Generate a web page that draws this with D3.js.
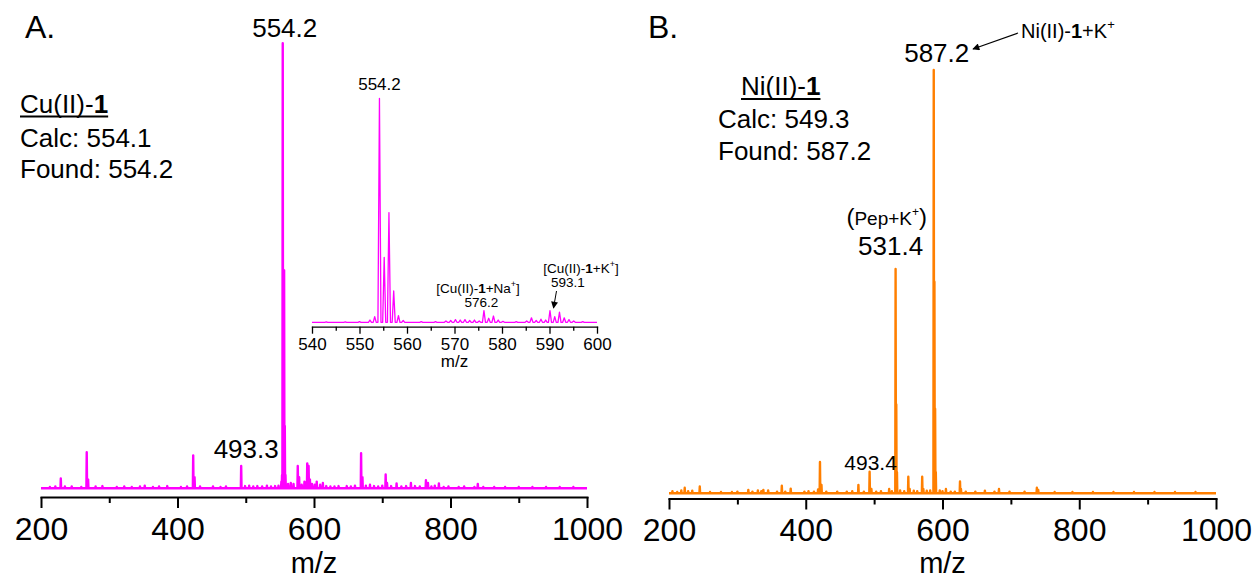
<!DOCTYPE html>
<html><head><meta charset="utf-8">
<script src="https://cdn.jsdelivr.net/npm/d3@7"></script>
<style>
body{margin:0;background:#fff}
text{font-family:"Liberation Sans",Arial,Helvetica,sans-serif;fill:#000}
</style>
</head><body>
<svg id="c" width="1257" height="580"></svg>
<script>
// ---------- data ----------
const majorTicks = [200, 400, 600, 800, 1000];
const minorTicks = [300, 500, 700, 900];
const insetMajorTicks = [540, 550, 560, 570, 580, 590, 600];
const insetMinorTicks = [545, 555, 565, 575, 585, 595];

// Panel A: Cu(II)-1, [m/z, relative intensity]
const cuPeaks = [
  [213,0.003],[221,0.004],[229,0.022],[235,0.004],[245,0.004],[259,0.003],
  [267,0.081],[269,0.02],[280,0.004],[290,0.005],[311,0.003],[322,0.004],
  [333,0.003],[345,0.004],[352,0.006],[364,0.003],[373,0.004],[385,0.005],
  [405,0.003],[414,0.004],[423,0.074],[425,0.025],[433,0.004],[452,0.004],
  [463,0.003],[471,0.004],[493.3,0.05],[499,0.005],[505,0.006],[511,0.004],
  [517,0.005],[524,0.004],[531,0.006],[537,0.004],[543,0.005],[548,0.006],[552.2,0.015],
  [553.2,0.03],[554.2,1],[555.2,0.29],[556.2,0.49],[557.2,0.14],[558.2,0.03],[562,0.01],
  [566,0.012],[570,0.01],[576.2,0.05],[578.2,0.025],[582,0.008],[586,0.015],[588,0.012],
  [590.1,0.056],[592.1,0.05],[594,0.02],[597,0.01],[601,0.008],[604,0.015],[609,0.008],
  [613,0.012],[618,0.005],[624,0.004],[630,0.004],[636,0.005],[648,0.005],
  [654,0.004],[660,0.006],[669,0.079],[671,0.025],[676,0.006],[682,0.008],[688,0.005],
  [694,0.004],[700,0.006],[705,0.031],[707,0.012],[713,0.005],[721,0.011],[728,0.004],
  [735,0.005],[742,0.012],[748,0.005],[755,0.004],[764,0.018],[767,0.012],[772,0.004],
  [777,0.006],[783,0.011],[790,0.003],[797,0.004],[812,0.003],[820,0.004],
  [835,0.003],[840,0.01],[848,0.003],[864,0.003],
  [880,0.003],[900,0.003],[920,0.003],[940,0.003],
  [960,0.003],[980,0.003]
];

// Inset of panel A (540-600)
const cuInsetPeaks = [
  [543,0.002],[547,0.002],[550,0.003],[552.2,0.01],[553.2,0.025],[554.2,1],[555.2,0.29],
  [556.2,0.49],[557.2,0.14],[558.2,0.03],[559.2,0.008],[563,0.003],[566,0.003],
  [568.2,0.006],[569.2,0.008],[570.2,0.012],[571.2,0.01],[572.2,0.012],[573.2,0.008],
  [574.2,0.01],[575.2,0.006],[576.2,0.052],[577.2,0.018],[578.2,0.028],[579.2,0.01],
  [580.2,0.004],[583,0.003],[585.2,0.006],[586.2,0.02],[587.2,0.008],[588.2,0.014],
  [589.2,0.01],[590.1,0.052],[591.1,0.025],[592.1,0.045],[593.1,0.02],[594.1,0.012],
  [595.1,0.006],[597,0.003]
];

// Panel B: Ni(II)-1
const niPeaks = [
  [205,0.005],[212,0.003],[218,0.007],[223,0.013],[228,0.005],[234,0.006],
  [245,0.016],[260,0.003],[276,0.003],[292,0.003],
  [300,0.004],[316,0.008],[322,0.004],[330,0.007],[335,0.005],[338,0.008],
  [345,0.007],[358,0.004],[365,0.018],[370,0.004],[378,0.011],
  [398,0.004],[404,0.005],[412,0.004],[418,0.009],[420.8,0.074],[423,0.02],
  [430,0.004],[446,0.004],[460,0.004],[468,0.005],[477,0.02],
  [485,0.004],[493.4,0.051],[496,0.01],[503,0.004],[510,0.005],[522,0.01],
  [526,0.005],[531.4,0.53],[532.4,0.21],[533.4,0.05],[538,0.007],[544,0.005],[550,0.039],
  [552,0.01],[558,0.006],[563,0.005],[570.3,0.039],[572,0.01],[577,0.006],[582,0.007],
  [587.2,1],[588.2,0.5],[589.2,0.2],[590.2,0.05],[596,0.007],[600,0.005],[605,0.01],
  [612,0.004],[618,0.004],[625.6,0.028],[627,0.01],[634,0.004],[648,0.004],
  [662,0.006],[676,0.004],[682.6,0.01],[698,0.004],
  [720,0.004],[738,0.013],[740,0.008],
  [764,0.003],[790,0.003],[820,0.003],
  [850,0.003],[880,0.003],[910,0.003],[940,0.003],
  [970,0.003]
];

// ---------- drawing ----------
const svg = d3.select("#c");
svg.append("rect").attr("width",1257).attr("height",580).attr("fill","#fff");
svg.append("defs").append("marker")
  .attr("id","arr").attr("viewBox","0 0 10 10").attr("refX",9).attr("refY",5)
  .attr("markerWidth",9).attr("markerHeight",7).attr("markerUnits","userSpaceOnUse")
  .attr("orient","auto")
  .append("path").attr("d","M0,0 L10,5 L0,10 Z").attr("fill","#000");

function profile(peaks, hw, lo, hi){
  const pts = [[lo,0]];
  peaks.filter(p => p[0] > lo && p[0] < hi).sort((a,b)=>a[0]-b[0])
    .forEach(([m,h]) => { pts.push([m-hw,0],[m,h],[m+hw,0]); });
  pts.push([hi,0]);
  return pts;
}

function drawAxis(g, x, y, majors, minors, bigLen, smallLen, pad, fs, sw){
  const ax = g.append("g").attr("transform",`translate(0,${y})`);
  ax.call(d3.axisBottom(x).tickValues(majors).tickSize(bigLen).tickSizeOuter(0).tickPadding(pad).tickFormat(d3.format("d")));
  const mi = g.append("g").attr("transform",`translate(0,${y})`);
  mi.call(d3.axisBottom(x).tickValues(minors).tickSize(smallLen).tickSizeOuter(0).tickFormat(""));
  mi.select(".domain").remove();
  [ax,mi].forEach(a=>{
    a.selectAll("path,line").attr("stroke","#000").attr("stroke-width",sw);
    a.selectAll("text").attr("font-size",fs).attr("font-family",'"Liberation Sans",Arial,sans-serif').attr("fill","#000");
  });
  ax.select(".domain").attr("stroke-linecap","square");
}

function panel(cfg){
  const g = svg.append("g");
  const x = d3.scaleLinear().domain([200,1000]).range([cfg.x0,cfg.x1]);
  const y = d3.scaleLinear().domain([0,1]).range([cfg.yBase,cfg.yTop]);
  g.append("path").datum(profile(cfg.peaks, 0.5, 200, 1000))
    .attr("d", d3.line().x(d=>x(d[0])).y(d=>y(d[1])))
    .attr("fill","none").attr("stroke",cfg.color).attr("stroke-width",2.4)
    .attr("stroke-linejoin","round");
  drawAxis(g, x, cfg.axisY, majorTicks, minorTicks, 11, 6, 9, 32, 2);
  g.append("text").attr("x",(cfg.x0+cfg.x1)/2).attr("y",573).attr("text-anchor","middle")
    .attr("font-size",29).text("m/z");
  return {g,x,y};
}

// Panel A
const A = panel({x0:41,x1:587,axisY:497,yBase:488.3,yTop:43.3,color:"#ff00ff",peaks:cuPeaks});
svg.append("text").attr("x",25).attr("y",38).attr("font-size",32).text("A.");
svg.append("text").attr("x",A.x(554.2)+2).attr("y",37).attr("text-anchor","middle").attr("font-size",26).text("554.2");
svg.append("text").attr("x",A.x(493.3)+5).attr("y",458).attr("text-anchor","middle").attr("font-size",26).text("493.3");

function titleBlock(x, yTitle, pre, bold, lines){
  const t = svg.append("text").attr("x",x).attr("y",yTitle).attr("font-size",26);
  t.append("tspan").text(pre);
  t.append("tspan").attr("font-weight","bold").text(bold);
  const w = t.node().getComputedTextLength();
  svg.append("line").attr("x1",x).attr("x2",x+w).attr("y1",yTitle+4).attr("y2",yTitle+4)
    .attr("stroke","#000").attr("stroke-width",2);
  lines.forEach(l => svg.append("text").attr("x",l.x).attr("y",l.y).attr("font-size",26).text(l.t));
}
titleBlock(20, 112.5, "Cu(II)-", "1", [{x:20,y:146.5,t:"Calc: 554.1"},{x:20,y:178,t:"Found: 554.2"}]);

// Inset
const ix = d3.scaleLinear().domain([540,600]).range([312,597]);
const iy = d3.scaleLinear().domain([0,1]).range([322.3,98.3]);
const ig = svg.append("g");
ig.append("path").datum(profile(cuInsetPeaks, 0.32, 540, 600))
  .attr("d", d3.line().x(d=>ix(d[0])).y(d=>iy(d[1])))
  .attr("fill","none").attr("stroke","#ff00ff").attr("stroke-width",1.3).attr("stroke-linejoin","round");
drawAxis(ig, ix, 326.7, insetMajorTicks, insetMinorTicks, 7, 4, 4, 17, 1.3);
ig.append("text").attr("x",(312+597)/2).attr("y",367).attr("text-anchor","middle").attr("font-size",17).text("m/z");
ig.append("text").attr("x",ix(554.2)).attr("y",90).attr("text-anchor","middle").attr("font-size",17).text("554.2");

function adductLabel(g, xc, yb, metal, ion){
  const t = g.append("text").attr("x",xc).attr("y",yb).attr("text-anchor","middle").attr("font-size",13.5);
  t.append("tspan").text(`[${metal}-`);
  t.append("tspan").attr("font-weight","bold").text("1");
  t.append("tspan").text(`+${ion}`);
  t.append("tspan").attr("font-size",9).attr("dy",-6).text("+");
  t.append("tspan").attr("dy",6).text("]");
}
adductLabel(ig, 478, 293, "Cu(II)", "Na");
ig.append("text").attr("x",481.5).attr("y",307).attr("text-anchor","middle").attr("font-size",13.5).text("576.2");
adductLabel(ig, 581, 273, "Cu(II)", "K");
ig.append("text").attr("x",568).attr("y",286.5).attr("text-anchor","middle").attr("font-size",13.5).text("593.1");
ig.append("line").attr("x1",556.5).attr("y1",291).attr("x2",553.5).attr("y2",308)
  .attr("stroke","#000").attr("stroke-width",1).attr("marker-end","url(#arr)");

// Panel B
const B = panel({x0:669,x1:1216,axisY:498.5,yBase:493.3,yTop:70,color:"#ff7f00",peaks:niPeaks});
svg.append("text").attr("x",648).attr("y",38).attr("font-size",32).text("B.");
svg.append("text").attr("x",B.x(587.2)+3).attr("y",61.5).attr("text-anchor","middle").attr("font-size",26).text("587.2");
svg.append("text").attr("x",B.x(531.4)-5).attr("y",255).attr("text-anchor","middle").attr("font-size",26).text("531.4");
svg.append("text").attr("x",B.x(493.4)+1).attr("y",470).attr("text-anchor","middle").attr("font-size",21).text("493.4");
titleBlock(741, 95, "Ni(II)-", "1", [{x:718,y:128,t:"Calc: 549.3"},{x:718,y:160,t:"Found: 587.2"}]);

// (Pep+K+)
const pep = svg.append("text").attr("x",927).attr("y",225).attr("text-anchor","end");
pep.append("tspan").attr("font-size",24).text("(");
pep.append("tspan").attr("font-size",19).text("Pep+K");
pep.append("tspan").attr("font-size",12).attr("dy",-9).text("+");
pep.append("tspan").attr("font-size",24).attr("dy",9).text(")");

// Ni(II)-1+K+
const nk = svg.append("text").attr("x",1021).attr("y",38).attr("font-size",20);
nk.append("tspan").text("Ni(II)-");
nk.append("tspan").attr("font-weight","bold").text("1");
nk.append("tspan").text("+K");
nk.append("tspan").attr("font-size",13).attr("dy",-9).text("+");
svg.append("line").attr("x1",1018).attr("y1",33).attr("x2",973).attr("y2",49)
  .attr("stroke","#000").attr("stroke-width",1.2).attr("marker-end","url(#arr)");
</script>
</body></html>
